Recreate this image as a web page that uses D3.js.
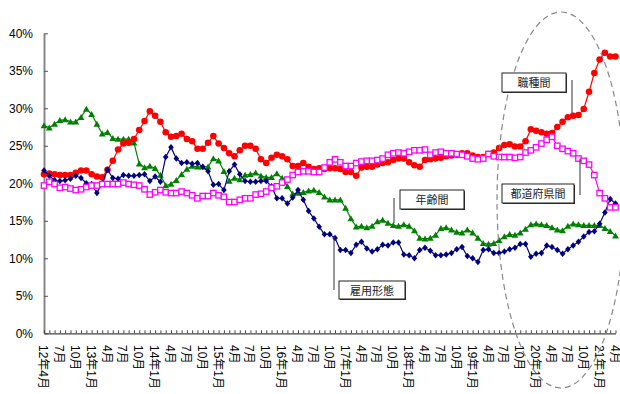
<!DOCTYPE html>
<html>
<head>
<meta charset="utf-8">
<script src="https://cdn.jsdelivr.net/npm/d3@7"></script>
<style>
  html, body { margin: 0; padding: 0; background: #fff; }
  svg { display: block; }
  text { font-family: "Liberation Sans", Arial, "Noto Sans CJK JP", sans-serif; }
</style>
</head>
<body>
<svg id="chart" width="620" height="394"></svg>
<script>
// Monthly values, 2012年4月 – 2021年4月 (109 months), in percent.
const occupation = [ // 職種間
  21.2, 21.3, 21.2, 21.1, 21.1, 21.1, 21.4, 21.7, 21.7, 21.2, 20.9, 20.8,
  21.8, 23.0, 24.5, 25.3, 25.4, 25.9, 27.1, 28.3, 29.6, 29.0, 28.2, 26.8,
  26.2, 26.3, 26.6, 25.9, 25.6, 24.6, 24.6, 25.4, 26.3, 25.3, 24.7, 24.0,
  23.6, 24.4, 25.0, 25.0, 24.6, 23.2, 22.7, 23.4, 23.8, 23.6, 23.2, 22.3,
  22.3, 22.7, 22.2, 21.9, 22.0, 21.9, 22.0, 22.0, 21.9, 21.5, 21.5, 21.0,
  22.1, 22.2, 22.2, 22.5, 22.7, 22.8, 23.1, 23.3, 23.3, 22.8, 22.4, 22.2,
  23.1, 23.2, 23.3, 23.4, 23.6, 23.7, 23.8, 24.0, 24.0, 23.7, 23.5, 23.5,
  23.9, 24.1, 24.7, 25.1, 25.2, 24.9, 24.9, 25.6, 27.2, 27.0, 26.8, 26.6,
  26.7, 27.5, 28.2, 28.8, 29.0, 29.1, 29.9, 32.2, 34.7, 36.5, 37.4, 36.9,
  36.9
];
const age = [ // 年齢間
  27.7, 27.4, 27.9, 28.4, 28.5, 28.2, 28.2, 28.8, 29.9, 29.2, 27.9, 26.6,
  26.8, 26.0, 25.9, 25.9, 25.9, 25.4, 22.6, 22.1, 22.3, 22.0, 21.1, 19.7,
  19.9, 20.4, 21.2, 21.9, 22.3, 22.2, 22.2, 22.2, 23.3, 23.0, 21.6, 20.3,
  20.7, 20.5, 21.1, 21.2, 21.4, 21.0, 20.8, 20.8, 21.3, 20.7, 19.6, 18.6,
  18.7, 18.8, 19.0, 19.1, 18.8, 18.2, 17.8, 17.8, 17.8, 16.7, 15.3, 14.2,
  14.3, 14.1, 14.3, 14.9, 15.1, 14.7, 14.4, 14.3, 14.5, 14.3, 13.7, 12.7,
  12.6, 12.7, 13.1, 14.0, 14.1, 13.8, 13.5, 13.4, 13.8, 13.4, 12.7, 12.0,
  11.9, 12.0, 12.4, 12.9, 13.2, 13.1, 13.4, 13.9, 14.5, 14.6, 14.5, 14.4,
  14.1, 13.8, 13.7, 14.3, 14.6, 14.5, 14.4, 14.4, 14.4, 14.4, 14.0, 13.6,
  13.0
];
const employment = [ // 雇用形態
  21.7, 21.0, 20.4, 20.3, 20.4, 20.6, 21.0, 20.7, 20.0, 19.9, 18.7, 20.0,
  21.8, 20.7, 20.6, 21.1, 21.0, 21.0, 21.1, 21.2, 20.3, 20.9, 20.2, 23.5,
  24.8, 23.3, 22.7, 22.8, 22.6, 22.7, 22.2, 21.6, 19.8, 19.9, 19.1, 21.6,
  22.5, 21.2, 20.3, 20.2, 20.2, 20.3, 20.3, 19.6, 18.0, 18.0, 17.3, 18.1,
  19.1, 17.8, 16.3, 15.3, 14.2, 13.2, 13.2, 12.7, 11.1, 11.1, 10.7, 11.8,
  12.2, 11.3, 10.9, 11.2, 11.8, 11.7, 12.1, 12.1, 10.5, 10.4, 10.0, 11.1,
  11.4, 11.0, 10.4, 10.4, 10.5, 10.7, 11.2, 11.5, 10.3, 10.0,  9.5, 11.1,
  11.2, 10.7, 10.7, 10.9, 11.2, 11.4, 11.9, 11.9, 10.2, 10.6, 10.7, 11.7,
  11.5, 11.1, 10.6, 11.2, 11.7, 12.2, 12.9, 13.5, 13.6, 14.6, 16.1, 17.9,
  17.3
];
const prefecture = [ // 都道府県間
  19.7, 20.2, 19.9, 19.4, 19.5, 19.3, 19.1, 19.2, 19.5, 19.7, 19.7, 19.9,
  19.9, 19.9, 19.9, 20.1, 19.9, 19.8, 19.7, 19.2, 18.5, 18.8, 19.1, 18.8,
  18.7, 18.7, 18.9, 18.7, 18.4, 18.0, 18.3, 18.3, 18.7, 18.4, 18.2, 17.5,
  17.5, 17.8, 18.0, 18.0, 18.5, 18.6, 18.9, 19.4, 19.6, 20.1, 20.5, 21.1,
  21.5, 21.6, 21.6, 21.5, 21.5, 22.1, 22.8, 23.2, 22.8, 22.3, 22.3, 22.7,
  22.9, 23.0, 23.0, 23.1, 23.3, 23.8, 24.0, 24.1, 24.0, 24.2, 24.4, 24.4,
  24.5, 23.8, 24.1, 24.2, 24.0, 24.0, 23.9, 23.8, 23.6, 23.3, 23.2, 23.3,
  23.9, 23.6, 23.5, 23.5, 23.5, 23.4, 23.5, 24.1, 24.4, 24.8, 25.3, 25.8,
  26.2, 25.0, 24.6, 24.3, 24.0, 23.3, 23.0, 22.5, 21.1, 18.7, 18.0, 16.8,
  16.8
];

// Quarterly axis labels (every third month).
const tickLabels = [
  "12年4月", "7月", "10月", "13年1月", "4月", "7月", "10月",
  "14年1月", "4月", "7月", "10月", "15年1月", "4月", "7月", "10月",
  "16年1月", "4月", "7月", "10月", "17年1月", "4月", "7月", "10月",
  "18年1月", "4月", "7月", "10月", "19年1月", "4月", "7月", "10月",
  "20年1月", "4月", "7月", "10月", "21年1月", "4月"
];
const yTicks = [0, 5, 10, 15, 20, 25, 30, 35, 40];

const svg = d3.select("#chart");
const months = d3.range(occupation.length);

const x = d3.scaleLinear().domain([0, months.length - 1]).range([44, 615.5]);
const y = d3.scaleLinear().domain([0, 40]).range([333.3, 33.3]);

// Y axis: gray spine, short inward ticks, percent labels.
const yAxis = svg.append("g")
  .attr("transform", `translate(${x(0)},0)`)
  .call(d3.axisLeft(y).tickValues(yTicks).tickSizeInner(-4).tickSizeOuter(0)
    .tickPadding(11).tickFormat(d => d + "%"));
yAxis.select(".domain").attr("stroke", "#888").attr("stroke-width", 2);
yAxis.selectAll(".tick line").attr("stroke", "#555");
yAxis.selectAll(".tick text").attr("font-size", 12).attr("fill", "#000")
  .attr("font-family", "Liberation Sans, Arial, sans-serif");

// X axis: a small upward tick for every month.
const xAxis = svg.append("g")
  .attr("transform", `translate(0,${y(0)})`)
  .call(d3.axisBottom(x).tickValues(months).tickSizeInner(-3).tickSizeOuter(0)
    .tickFormat(""));
xAxis.select(".domain").attr("stroke", "#444").attr("stroke-width", 1.3);
xAxis.selectAll(".tick line").attr("stroke", "#444");

// Quarterly labels, turned to read downward.
const quarterIdx = months.filter(i => i % 3 === 0);
svg.append("g").selectAll("text")
  .data(quarterIdx)
  .join("text")
  .attr("transform", d => `translate(${x(d) - 1},345) rotate(90)`)
  .attr("dominant-baseline", "central")
  .attr("font-size", 12)
  .attr("fill", "#000")
  .attr("font-family", "Liberation Sans, Arial, Noto Sans CJK JP, sans-serif")
  .text((d, i) => tickLabels[i]);

const line = d3.line().x((d, i) => x(i)).y(d => y(d));

const series = [
  { key: "age", values: age, color: "#008000", marker: "triangle" },
  { key: "occupation", values: occupation, color: "#FF0000", marker: "circle" },
  { key: "employment", values: employment, color: "#000080", marker: "diamond" },
  { key: "prefecture", values: prefecture, color: "#FF00FF", marker: "square" }
];

const markerPath = {
  triangle: "M0,-3.3L3.4,2.6L-3.4,2.6Z",
  diamond: "M0,-3.2L2.8,0L0,3.2L-2.8,0Z"
};

series.forEach(s => {
  const g = svg.append("g").attr("class", s.key);
  g.append("path")
    .datum(s.values)
    .attr("fill", "none")
    .attr("stroke", s.color)
    .attr("stroke-width", 1.2)
    .attr("d", line);
  g.selectAll(".pt").data(s.values).join(
    enter => {
      if (s.marker === "circle") {
        return enter.append("circle").attr("r", 3.3)
          .attr("cx", (d, i) => x(i)).attr("cy", d => y(d))
          .attr("fill", s.color);
      }
      if (s.marker === "square") {
        return enter.append("rect").attr("width", 5.4).attr("height", 5.4)
          .attr("x", (d, i) => x(i) - 2.7).attr("y", d => y(d) - 2.7)
          .attr("fill", "#fff").attr("stroke", s.color).attr("stroke-width", 1.3);
      }
      return enter.append("path").attr("d", markerPath[s.marker])
        .attr("transform", (d, i) => `translate(${x(i)},${y(d)})`)
        .attr("fill", s.color);
    });
});

// Dashed ellipse around the most recent period.
svg.append("ellipse")
  .attr("cx", 561).attr("cy", 200).attr("rx", 64).attr("ry", 188)
  .attr("fill", "none").attr("stroke", "#888").attr("stroke-width", 1.2)
  .attr("stroke-dasharray", "6,4");

// Callout labels with leader lines.
const callouts = [
  { text: "職種間", box: [502, 73, 64, 19], line: [572, 80, 572, 113] },
  { text: "都道府県間", box: [502, 184, 72, 19], line: [580, 159, 580, 195] },
  { text: "年齢間", box: [400, 190, 64, 19], line: [394, 198, 394, 223] },
  { text: "雇用形態", box: [339, 281, 66, 18], line: [334, 237, 334, 290] }
];
const cg = svg.append("g");
callouts.forEach(c => {
  cg.append("line")
    .attr("x1", c.line[0]).attr("y1", c.line[1])
    .attr("x2", c.line[2]).attr("y2", c.line[3])
    .attr("stroke", "#333").attr("stroke-width", 1);
  const [bx, by, bw, bh] = c.box;
  cg.append("rect")
    .attr("x", bx + 1).attr("y", by + 1).attr("width", bw).attr("height", bh)
    .attr("fill", "#333");
  cg.append("rect")
    .attr("x", bx).attr("y", by).attr("width", bw).attr("height", bh)
    .attr("fill", "#fff").attr("stroke", "#222").attr("stroke-width", 1);
  cg.append("text")
    .attr("x", bx + bw / 2).attr("y", by + bh / 2 + 0.5)
    .attr("text-anchor", "middle").attr("dominant-baseline", "central")
    .attr("font-size", 11).attr("fill", "#222")
    .attr("font-family", "Noto Sans CJK JP, sans-serif")
    .text(c.text);
});
</script>
</body>
</html>
